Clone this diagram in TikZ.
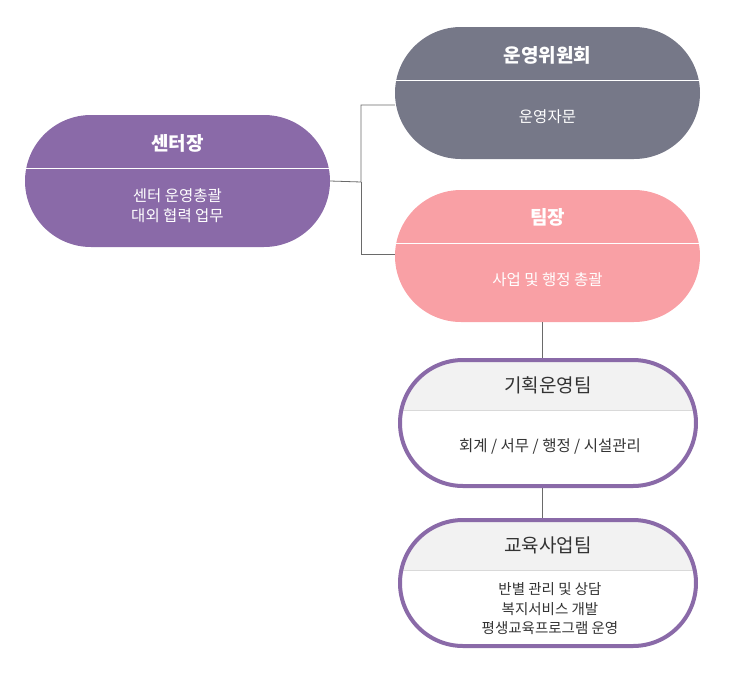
\documentclass[tikz,border=0pt]{standalone}
\usepackage{fontspec}
\newfontfamily\kr{Noto Sans CJK KR}
\definecolor{purp}{HTML}{8A6AA8}
\definecolor{slate}{HTML}{767888}
\definecolor{pinkc}{HTML}{F9A0A5}
\definecolor{lgray}{HTML}{F2F2F2}
\definecolor{txt}{HTML}{333333}
\definecolor{conn}{HTML}{6A6A6A}
\begin{document}
\begin{tikzpicture}[x=1pt,y=-1pt,font=\kr,
  title/.style={font=\kr\bfseries\fontsize{19}{22}\selectfont},
  body/.style={font=\kr\fontsize{15.5}{20}\selectfont,align=center},
  pill/.style={rectangle,rounded corners=66pt,inner sep=0pt},
  wire/.style={draw=conn,line width=0.8pt}]
\useasboundingbox (0,0) rectangle (732,678);
% filled pills
\node[pill,fill=purp,minimum width=305pt,minimum height=132pt] (cen) at (177.5,181) {};
\node[pill,fill=slate,minimum width=305pt,minimum height=132pt] (com) at (547.5,93) {};
\node[pill,fill=pinkc,minimum width=305pt,minimum height=132pt] (lead) at (547.5,256) {};
\draw[white,line width=0.7pt] (25,168) -- (330,168);
\draw[white,line width=0.7pt] (395,80) -- (700,80);
\draw[white,line width=0.7pt] (395,243) -- (700,243);
% outlined pills
\begin{scope}
\clip[rounded corners=63pt] (400,360) rectangle (696,486);
\fill[lgray] (390,350) rectangle (710,410);
\draw[black!15,line width=0.7pt] (390,410) -- (710,410);
\end{scope}
\node[pill,rounded corners=63pt,draw=purp,line width=4pt,minimum width=296pt,minimum height=126pt] (plan) at (548,423) {};
\begin{scope}
\clip[rounded corners=63pt] (400,520) rectangle (696,646);
\fill[lgray] (390,510) rectangle (710,570);
\draw[black!15,line width=0.7pt] (390,570) -- (710,570);
\end{scope}
\node[pill,rounded corners=63pt,draw=purp,line width=4pt,minimum width=296pt,minimum height=126pt] (edu) at (548,583) {};
% texts
\node[title,white] (t1) at (177.5,143) {센터장};
\node[body,white] (b1) at (177.5,206) {센터 운영총괄\\대외 협력 업무};
\node[title,white] (t2) at (547.5,55) {운영위원회};
\node[body,white] (b2) at (547.5,117) {운영자문};
\node[title,white] (t3) at (547.5,217) {팀장};
\node[body,white] (b3) at (547.5,280) {사업 및 행정 총괄};
\node[title,txt,font=\kr\fontsize{19}{22}\selectfont] (t4) at (548,385) {기획운영팀};
\node[body,txt] (b4) at (550,446) {회계 / 서무 / 행정 / 시설관리};
\node[title,txt,font=\kr\fontsize{19}{22}\selectfont] (t5) at (548,545) {교육사업팀};
\node[body,txt,font=\kr\fontsize{14.5}{19.5}\selectfont] (b5) at (550,609) {반별 관리 및 상담\\복지서비스 개발\\평생교육프로그램 운영};
% connectors
\coordinate (j) at (361,182);
\draw[wire] (cen.east) -- (j) -- (361,105) -- (com.west |- 0,105);
\draw[wire] (j) -- (361,254) -- (lead.west |- 0,254);
\draw[wire] (542,322) -- (542,358);
\draw[wire] (542,488) -- (542,518);
\end{tikzpicture}
\end{document}
